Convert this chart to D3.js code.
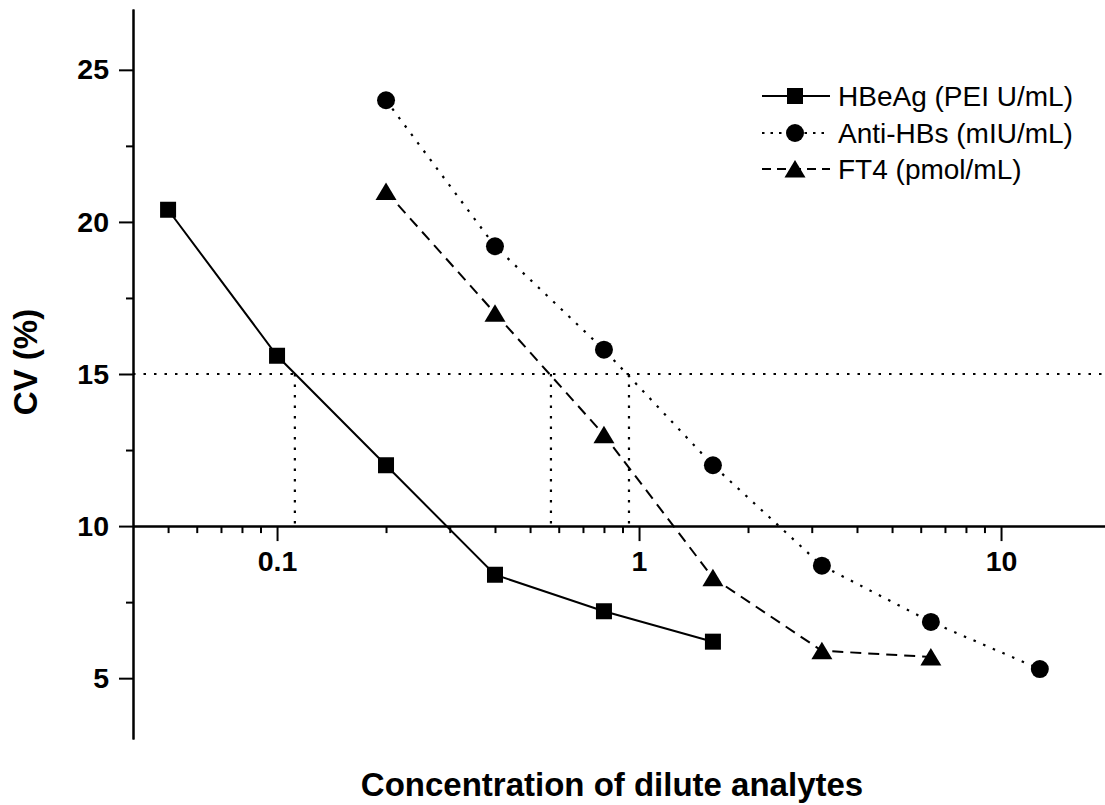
<!DOCTYPE html>
<html><head><meta charset="utf-8">
<script src="https://cdn.jsdelivr.net/npm/d3@7"></script>
<style>
html,body{margin:0;padding:0;background:#fff;}
svg{display:block;font-family:"Liberation Sans",Arial,sans-serif;}
</style>
</head><body>
<svg id="chart" width="1105" height="805"></svg>
<script>
// ---- data ----
const concHBeAg = [0.05, 0.1, 0.2, 0.4, 0.8, 1.6];
const cvHBeAg   = [20.4, 15.6, 12.0, 8.4, 7.2, 6.2];
const concAnti  = [0.2, 0.4, 0.8, 1.6, 3.2, 6.4, 12.8];
const cvAnti    = [24.0, 19.2, 15.8, 12.0, 8.7, 6.85, 5.3];
const concFT4   = [0.2, 0.4, 0.8, 1.6, 3.2, 6.4];
const cvFT4     = [21.0, 17.0, 13.0, 8.3, 5.9, 5.7];
const seriesNames = ["HBeAg (PEI U/mL)", "Anti-HBs (mIU/mL)", "FT4 (pmol/mL)"];
const cvThreshold = 15;
const lodConc = [0.112, 0.571, 0.938];
const xMajorTicks = [0.1, 1, 10];
const xTickLabels = ["0.1", "1", "10"];
const xMinorTicks = [0.05,0.06,0.07,0.08,0.09,0.2,0.3,0.4,0.5,0.6,0.7,0.8,0.9,2,3,4,5,6,7,8,9];
const yMajorTicks = [5, 10, 15, 20, 25];
const yMinorTicks = [7.5, 12.5, 17.5, 22.5];
const xTitle = "Concentration of dilute analytes";
const yTitle = "CV (%)";

// ---- setup ----
const svg = d3.select("#chart");
const x = d3.scaleLog().domain([0.04, 20]).range([133, 1110]);
const y = d3.scaleLinear().domain([3, 27]).range([739, 9]);
const xAxisY = y(10);

const series = [
  {name: seriesNames[0], conc: concHBeAg, cv: cvHBeAg, dash: null, shape: "square"},
  {name: seriesNames[1], conc: concAnti, cv: cvAnti, dash: "2.5,8", shape: "circle"},
  {name: seriesNames[2], conc: concFT4, cv: cvFT4, dash: "11,7", shape: "triangle"}
];

function drawMarker(g, shape, cx, cy) {
  if (shape === "square") {
    g.append("rect").attr("x", cx - 8).attr("y", cy - 8).attr("width", 16).attr("height", 16).attr("fill", "#000");
  } else if (shape === "circle") {
    g.append("circle").attr("cx", cx).attr("cy", cy).attr("r", 9).attr("fill", "#000");
  } else {
    g.append("path").attr("d", `M${cx},${cy-9}L${cx+10.5},${cy+8.5}L${cx-10.5},${cy+8.5}Z`).attr("fill", "#000");
  }
}

// ---- axes ----
const axisStyle = g => {
  g.selectAll("path.domain").attr("stroke", "#000").attr("stroke-width", 2);
  g.selectAll(".tick line").attr("stroke", "#000").attr("stroke-width", 2);
  g.selectAll("text").attr("fill", "#000").attr("font-size", 28.5).attr("font-weight", "bold")
    .attr("font-family", '"Liberation Sans",Arial,sans-serif');
};

// x axis (crosses at CV = 10)
const gx = svg.append("g").attr("transform", `translate(0,${xAxisY})`);
gx.call(d3.axisBottom(x).tickValues(xMajorTicks).tickSize(15).tickSizeOuter(0).tickPadding(10)
  .tickFormat((d, i) => xTickLabels[i])).call(axisStyle);
const gxm = svg.append("g").attr("transform", `translate(0,${xAxisY})`);
gxm.call(d3.axisBottom(x).tickValues(xMinorTicks).tickSize(7).tickSizeOuter(0).tickFormat("")).call(axisStyle);

// y axis
const gy = svg.append("g").attr("transform", `translate(${x(0.04)},0)`);
gy.call(d3.axisLeft(y).tickValues(yMajorTicks).tickSize(14).tickSizeOuter(0).tickPadding(10)).call(axisStyle);
const gym = svg.append("g").attr("transform", `translate(${x(0.04)},0)`);
gym.call(d3.axisLeft(y).tickValues(yMinorTicks).tickSize(7).tickSizeOuter(0).tickFormat("")).call(axisStyle);

// ---- reference lines ----
svg.append("line")
  .attr("x1", x(0.04)).attr("x2", 1105)
  .attr("y1", y(cvThreshold)).attr("y2", y(cvThreshold))
  .attr("stroke", "#000").attr("stroke-width", 2.2).attr("stroke-dasharray", "2.5,8");
svg.selectAll("line.lod").data(lodConc).enter().append("line").attr("class", "lod")
  .attr("x1", d => x(d)).attr("x2", d => x(d))
  .attr("y1", y(cvThreshold)).attr("y2", xAxisY)
  .attr("stroke", "#000").attr("stroke-width", 2.2).attr("stroke-dasharray", "2.5,8");

// ---- series ----
const line = d3.line().x(d => x(d[0])).y(d => y(d[1]));
series.forEach(s => {
  const pts = s.conc.map((c, i) => [c, s.cv[i]]);
  const p = svg.append("path").attr("d", line(pts)).attr("fill", "none")
    .attr("stroke", "#000").attr("stroke-width", s.dash === "2.5,8" ? 2.2 : 2);
  if (s.dash) p.attr("stroke-dasharray", s.dash);
  const g = svg.append("g");
  pts.forEach(pt => drawMarker(g, s.shape, x(pt[0]), y(pt[1])));
});

// ---- legend ----
const legendRowsY = [96, 133, 169];
series.forEach((s, i) => {
  const ly = legendRowsY[i];
  const l = svg.append("line").attr("x1", 762).attr("x2", 830).attr("y1", ly).attr("y2", ly)
    .attr("stroke", "#000").attr("stroke-width", s.dash === "2.5,8" ? 2.2 : 2);
  if (s.dash) l.attr("stroke-dasharray", s.dash === "11,7" ? "9,6" : "2.5,6");
  drawMarker(svg.append("g"), s.shape, 795, ly);
  svg.append("text").attr("x", 838).attr("y", ly).attr("dy", "0.36em")
    .attr("font-size", 28).attr("fill", "#000").text(s.name);
});

// ---- titles ----
svg.append("text").attr("x", 612).attr("y", 796).attr("text-anchor", "middle")
  .attr("font-size", 33).attr("font-weight", "bold").attr("fill", "#000").text(xTitle);
svg.append("text").attr("transform", `translate(37,362) rotate(-90)`).attr("text-anchor", "middle")
  .attr("font-size", 33).attr("font-weight", "bold").attr("fill", "#000").text(yTitle);
</script>
</body></html>
